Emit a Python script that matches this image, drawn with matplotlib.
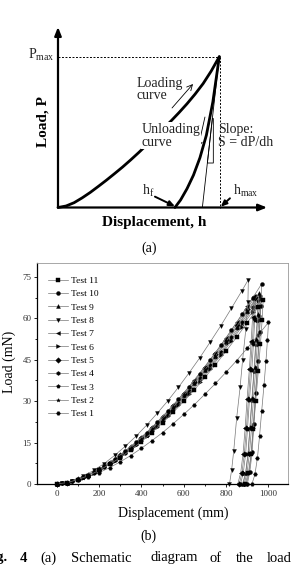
"""
Fig. 4: (a) schematic load-displacement curve, (b) nanoindentation curves of 11 tests
"""

import matplotlib
matplotlib.use('Agg')
import matplotlib.pyplot as plt
from matplotlib.ticker import MultipleLocator

plt.rcParams['font.family'] = ['Liberation Serif', 'DejaVu Serif']
plt.rcParams['mathtext.fontset'] = 'custom'
plt.rcParams['mathtext.rm'] = 'Liberation Serif'
plt.rcParams['mathtext.it'] = 'Liberation Serif:italic'
plt.rcParams['mathtext.default'] = 'regular'

# ---------- (a) schematic, normalised h / hmax and P / Pmax ----------
sch_load_h = [0, 0.05, 0.10, 0.15, 0.20, 0.25, 0.30, 0.35, 0.40, 0.45, 0.50,
              0.55, 0.60, 0.65, 0.70, 0.75, 0.80, 0.85, 0.90, 0.95, 1.0]
sch_load_p = [0, 0.010, 0.032, 0.064, 0.100, 0.140, 0.181, 0.224, 0.268, 0.315, 0.364,
              0.415, 0.466, 0.519, 0.573, 0.629, 0.688, 0.752, 0.822, 0.905, 1.0]
sch_unload_h = [1.0, 0.96, 0.92, 0.88, 0.84, 0.80, 0.76, 0.725]
sch_unload_p = [1.0, 0.70, 0.48, 0.33, 0.215, 0.125, 0.05, 0.0]
sch_tangent_h = [1.0, 0.895]
sch_tangent_p = [1.0, 0.0]
sch_triangle_h = [0.957, 0.963, 0.963, 0.926, 0.957]
sch_triangle_p = [0.59, 0.59, 0.295, 0.295, 0.59]
h_f = 0.725

# ---------- (b) measured curves ----------
# loading branches are read on two staggered displacement grids (mm)
grid_a = [0, 50, 100, 150, 200, 250, 300, 350, 400, 450, 500, 550, 600, 650, 700,
          750, 800, 850, 900, 950]
grid_b = [0, 25, 75, 125, 175, 225, 275, 325, 375, 425, 475, 525, 575, 625, 675,
          725, 775, 825, 875, 925]

t1_load = [0, 0.4, 1.3, 2.6, 4.1, 5.9, 8.0, 10.3, 12.9, 15.7, 18.6, 21.8, 25.2, 28.7,
           32.5, 36.4, 40.5, 44.7, 49.2, 53.8]
t1_unl_h = [1000, 995, 988, 979, 968, 958, 948, 936, 922]
t1_unl_p = [58.5, 52.0, 44.5, 36.0, 26.5, 17.5, 9.5, 3.5, 0]

t2_load = [0, 0.2, 1.0, 2.3, 4.1, 6.1, 8.6, 11.3, 14.3, 17.5, 21.1, 24.9, 28.9, 33.2,
           37.6, 42.4, 47.3, 52.4, 57.8, 63.3]
t2_unl_h = [950, 946, 939, 931, 921, 912, 903, 893, 880]
t2_unl_p = [66.2, 58.9, 50.3, 40.7, 30.0, 19.9, 10.7, 4.0, 0]

t3_load = [0, 0.5, 1.7, 3.2, 5.2, 7.5, 10.1, 13.1, 16.3, 19.8, 23.6, 27.6, 31.9, 36.4,
           41.1, 46.0, 51.2, 56.6, 62.2]
t3_unl_h = [940, 935, 929, 921, 910, 901, 892, 881, 868]
t3_unl_p = [66.8, 59.5, 50.8, 41.1, 30.3, 20.0, 10.8, 4.0, 0]

t4_load = [0, 0.2, 1.0, 2.4, 4.1, 6.2, 8.7, 11.4, 14.5, 17.8, 21.4, 25.2, 29.3, 33.6,
           38.2, 42.9, 47.9, 53.1, 58.6, 64.2]
t4_unl_h = [960, 955, 948, 940, 929, 920, 910, 899, 885]
t4_unl_p = [68.2, 60.7, 51.8, 41.9, 30.9, 20.5, 11.0, 4.1, 0]

t5_load = [0, 0.5, 1.7, 3.3, 5.3, 7.7, 10.4, 13.4, 16.6, 20.2, 24.1, 28.2, 32.5, 37.1,
           41.9, 47.0, 52.2, 57.7, 63.5]
t5_unl_h = [935, 930, 924, 915, 905, 896, 886, 875, 862]
t5_unl_p = [67.6, 60.2, 51.4, 41.6, 30.6, 20.3, 11.0, 4.1, 0]

t6_load = [0, 0.2, 1.0, 2.3, 4.0, 6.1, 8.4, 11.1, 14.1, 17.3, 20.8, 24.5, 28.5, 32.7,
           37.1, 41.8, 46.6, 51.7, 57.0, 62.4]
t6_unl_h = [965, 960, 954, 946, 936, 927, 918, 908, 895]
t6_unl_p = [66.9, 59.5, 50.8, 41.1, 30.3, 20.1, 10.8, 4.0, 0]

t7_load = [0, 0.5, 1.7, 3.3, 5.4, 7.8, 10.5, 13.5, 16.9, 20.5, 24.4, 28.5, 32.9, 37.6,
           42.5, 47.6, 52.9, 58.5, 64.3]
t7_unl_h = [930, 925, 918, 910, 899, 890, 880, 869, 855]
t7_unl_p = [67.9, 60.4, 51.6, 41.8, 30.8, 20.4, 11.0, 4.1, 0]

t8_load = [0, 0.2, 1.2, 2.8, 4.9, 7.4, 10.4, 13.7, 17.3, 21.3, 25.6, 30.1, 35.0, 40.2,
           45.6, 51.4, 57.3, 63.6, 70.0]
t8_unl_h = [905, 903, 893, 878, 866, 850, 836, 826, 816]
t8_unl_p = [74.0, 66.0, 56.0, 45.0, 35.0, 24.0, 12.0, 5.0, 0]

t9_load = [0, 0.5, 1.7, 3.3, 5.2, 7.6, 10.2, 13.2, 16.4, 20.0, 23.7, 27.8, 32.1, 36.6,
           41.4, 46.3, 51.6, 57.0, 62.6]
t9_unl_h = [955, 950, 943, 934, 923, 913, 904, 892, 878]
t9_unl_p = [69.0, 61.4, 52.4, 42.4, 31.3, 20.7, 11.2, 4.1, 0]

t10_load = [0, 0.2, 1.1, 2.5, 4.3, 6.5, 9.1, 12.0, 15.2, 18.6, 22.4, 26.4, 30.7, 35.2,
            40.0, 45.0, 50.2, 55.7, 61.4, 67.3]
t10_unl_h = [968, 964, 958, 950, 940, 931, 923, 912, 900]
t10_unl_p = [72.5, 64.5, 55.1, 44.6, 32.8, 21.8, 11.7, 4.4, 0]

t11_load = [0, 0.5, 1.6, 3.0, 4.9, 7.1, 9.5, 12.3, 15.3, 18.6, 22.1, 25.9, 29.9, 34.1,
            38.6, 43.2, 48.1, 53.2, 58.4, 63.9]
t11_unl_h = [975, 970, 962, 952, 940, 929, 918, 905, 890]
t11_unl_p = [66.7, 59.4, 50.7, 41.0, 30.2, 20.0, 10.8, 4.0, 0]

test_names = ['Test 1', 'Test 2', 'Test 3', 'Test 4', 'Test 5', 'Test 6',
              'Test 7', 'Test 8', 'Test 9', 'Test 10', 'Test 11']
test_grids = [grid_a, grid_b, grid_a, grid_b, grid_a, grid_b,
              grid_a, grid_b, grid_a, grid_b, grid_a]
test_loads = [t1_load, t2_load, t3_load, t4_load, t5_load, t6_load,
              t7_load, t8_load, t9_load, t10_load, t11_load]
test_unl_h = [t1_unl_h, t2_unl_h, t3_unl_h, t4_unl_h, t5_unl_h, t6_unl_h,
              t7_unl_h, t8_unl_h, t9_unl_h, t10_unl_h, t11_unl_h]
test_unl_p = [t1_unl_p, t2_unl_p, t3_unl_p, t4_unl_p, t5_unl_p, t6_unl_p,
              t7_unl_p, t8_unl_p, t9_unl_p, t10_unl_p, t11_unl_p]
test_markers = ['H', '*', 'p', 'h', 'D', '>', '<', 'v', '^', 'o', 's']

x_ticks = [0, 200, 400, 600, 800, 1000]
y_ticks = [0, 15, 30, 45, 60, 75]


def _arrow(ax, tail, head, lw, style):
    ax.annotate('', xy=head, xytext=tail,
                arrowprops=dict(arrowstyle=style, lw=lw, color='black',
                                shrinkA=0, shrinkB=0),
                annotation_clip=False)


def _plot_schematic(ax):
    """(a) 示意图"""
    ax.set_xlim(0, 1)
    ax.set_ylim(0, 1)
    ax.axis('off')

    # axes with arrows
    _arrow(ax, (0, 0), (0, 1.197), 1.6, '-|>,head_length=0.5,head_width=0.2')
    _arrow(ax, (0, 0), (1.296, 0), 1.6, '-|>,head_length=0.5,head_width=0.2')

    # guide lines
    ax.plot([0, 1], [1, 1], ls=(0, (2, 1.6)), lw=0.7, color='black', clip_on=False)
    ax.plot([1.005, 1.005], [1, 0], ls=(0, (2, 1.6)), lw=0.7, color='black', clip_on=False)

    ax.plot(sch_load_h, sch_load_p, color='black', lw=2.0, clip_on=False,
            solid_capstyle='round')
    ax.plot(sch_unload_h, sch_unload_p, color='black', lw=2.0, clip_on=False,
            solid_capstyle='round')
    ax.plot(sch_tangent_h, sch_tangent_p, color='black', lw=0.6, clip_on=False)
    ax.plot(sch_triangle_h, sch_triangle_p, color='black', lw=0.6, clip_on=False)

    txt = dict(fontsize=10, color='#222222')
    ax.text(-0.025, 1.01, r'P$_{max}$', ha='right', va='center', **txt)
    ax.text(0.488, 0.867, 'Loading\ncurve', ha='left', va='top', linespacing=0.95, **txt)
    ax.text(0.519, 0.56, 'Unloading\ncurve', ha='left', va='top', linespacing=0.95,
            bbox=dict(fc='white', ec='none', pad=0.5), zorder=5, **txt)
    ax.text(0.994, 0.558, 'Slope:\nS = dP/dh', ha='left', va='top', linespacing=1.0, **txt)
    ax.text(0.519, 0.083, r'h$_f$', ha='left', va='baseline', **txt)
    ax.text(1.087, 0.083, r'h$_{max}$', ha='left', va='baseline', **txt)

    _arrow(ax, (0.707, 0.66), (0.837, 0.819), 0.6, '->,head_length=0.4,head_width=0.2')
    _arrow(ax, (0.911, 0.60), (0.868, 0.395), 0.6, '->,head_length=0.4,head_width=0.2')
    _arrow(ax, (0.601, 0.072), (h_f, 0.008), 1.4, '-|>,head_length=0.35,head_width=0.15')
    _arrow(ax, (1.066, 0.061), (1.009, 0.005), 1.4, '-|>,head_length=0.35,head_width=0.15')

    ax.text(-0.091, 0.569, 'Load, P', rotation=90, ha='center', va='center',
            fontsize=11, fontweight='bold')
    ax.text(0.596, -0.099, 'Displacement, h', ha='center', va='center',
            fontsize=11, fontweight='bold')
    ax.text(0.565, -0.27, '(a)', ha='center', va='center', fontsize=10)


def _plot_tests(ax):
    """(b) 11 次压痕曲线"""
    handles = []
    for name, grid, load, uh, up, mk in zip(test_names, test_grids, test_loads,
                                            test_unl_h, test_unl_p, test_markers):
        h = grid[:len(load)] + uh
        p = load + up
        ln, = ax.plot(h, p, color='#777777', lw=0.5, marker=mk, ms=2.8,
                      mfc='black', mec='black', mew=0.3, label=name, clip_on=False)
        handles.append(ln)

    ax.set_xlim(-92, 1092)
    ax.set_ylim(0, 80)
    ax.set_xticks(x_ticks)
    ax.set_yticks(y_ticks)
    ax.xaxis.set_minor_locator(MultipleLocator(100))
    ax.yaxis.set_minor_locator(MultipleLocator(7.5))
    ax.tick_params(which='both', direction='out', top=False, right=False,
                   labelsize=6.5, labelcolor='#333333', width=0.6, pad=1.5)
    ax.tick_params(which='major', length=2.5)
    ax.tick_params(which='minor', length=1.5)
    for side in ['left', 'bottom']:
        ax.spines[side].set_linewidth(0.9)
    for side in ['top', 'right']:
        ax.spines[side].set_linewidth(0.6)
        ax.spines[side].set_color('#999999')

    ax.legend(handles[::-1], [h.get_label() for h in handles[::-1]],
              loc='upper left', bbox_to_anchor=(0.044, 0.94), frameon=False,
              fontsize=6.8, handlelength=2.1, handletextpad=0.35,
              labelspacing=0.5, borderpad=0, borderaxespad=0)


fig = plt.figure(figsize=(2.92, 5.65), dpi=100)

ax_a = fig.add_axes([58 / 292, 1 - 207.5 / 565, 161.3 / 292, 150.8 / 565])
_plot_schematic(ax_a)

ax_b = fig.add_axes([37 / 292, 1 - 484 / 565, 251 / 292, 221 / 565])
_plot_tests(ax_b)

fig.text(9 / 292, 1 - 362 / 565, 'Load (mN)', rotation=90, ha='center', va='center',
         fontsize=10)
fig.text(173 / 292, 1 - 513 / 565, 'Displacement (mm)', ha='center', va='center',
         fontsize=10)
fig.text(148 / 292, 1 - 536 / 565, '(b)', ha='center', va='center', fontsize=10)

# caption line (justified, cut by the page edge)
cap_y = 1 - 558 / 565
fig.text(8 / 292, cap_y, 'Fig.', ha='right', va='center', fontsize=10.5, fontweight='bold')
fig.text(20 / 292, cap_y, '4', ha='left', va='center', fontsize=10.5, fontweight='bold')
for word, x in [('(a)', 40), ('Schematic', 71), ('diagram', 150), ('of', 210),
                ('the', 236), ('load', 267)]:
    fig.text(x / 292, cap_y, word, ha='left', va='center', fontsize=10.5)

fig.savefig('out.png', dpi=100)
